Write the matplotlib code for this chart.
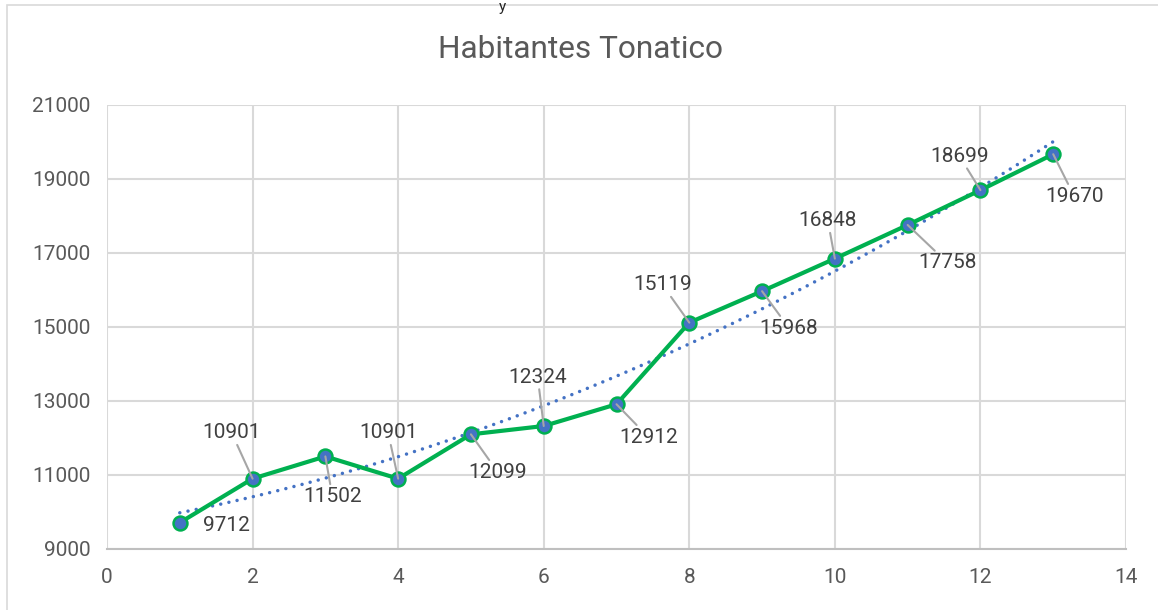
import numpy as np
import matplotlib
matplotlib.use("Agg")
import matplotlib.pyplot as plt
from matplotlib.patches import Rectangle

# Data
x_vals = [1, 2, 3, 4, 5, 6, 7, 8, 9, 10, 11, 12, 13]
habitantes = [9712, 10901, 11502, 10901, 12099, 12324, 12912, 15119, 15968, 16848, 17758, 18699, 19670]
title = "Habitantes Tonatico"
x_ticks = [0, 2, 4, 6, 8, 10, 12, 14]
y_ticks = [9000, 11000, 13000, 15000, 17000, 19000, 21000]

# Label offsets in pixels (layout only)
label_offsets = [(47, -3), (-21, 46), (7, -40), (-10, 46), (27, -38), (-6, 49),
                 (32, -33), (-27, 38), (27, -37), (-7, 38), (40, -38), (-21, 34), (21, -42)]

plt.rcParams['font.family'] = ['Roboto', 'DejaVu Sans']
TXT = '#595959'

fig = plt.figure(figsize=(11.58, 6.10), dpi=100)
ax = fig.add_axes([107/1158, 1 - 549/610, (1126 - 107)/1158, (549 - 105)/610])

# chart border
fig.patches.append(Rectangle((7/1158, -0.1), 1.2, (1 - 5/610) + 0.1, transform=fig.transFigure,
                             fill=False, edgecolor='#d9d9d9', linewidth=1.2))
fig.text(502/1158, 1.0, "y", ha='center', va='top', fontsize=11, color='#222222')

ax.set_xlim(0, 14)
ax.set_ylim(9000, 21000)
ax.set_xticks(x_ticks)
ax.set_yticks(y_ticks)
ax.grid(True, color='#d9d9d9', linewidth=1.5)
ax.set_axisbelow(True)
for s in ['top', 'right', 'left']:
    ax.spines[s].set_visible(False)
ax.spines['bottom'].set_color('#bfbfbf')
ax.spines['bottom'].set_linewidth(1.5)
ax.tick_params(length=0, labelsize=15, colors=TXT, pad=12)
ax.tick_params(axis='x', pad=14)

# trendline (polynomial fit)
coef = np.polyfit(x_vals, habitantes, 2)
xt = np.linspace(min(x_vals), max(x_vals), 300)
ax.plot(xt, np.polyval(coef, xt), linestyle=(0, (0.01, 2.4)), color='#4472C4', linewidth=2.5,
        dash_capstyle='round', zorder=3)

ax.plot(x_vals, habitantes, color='#00B050', linewidth=3, marker='o', markersize=10,
        markerfacecolor='#4472C4', markeredgecolor='#00B050', markeredgewidth=1.8, zorder=4)

for xv, yv, (dx, dy) in zip(x_vals, habitantes, label_offsets):
    far = np.hypot(dx, dy) > 48 or abs(dy) > 20
    ax.annotate(str(yv), (xv, yv), xytext=(dx, dy), textcoords='offset pixels',
                ha='center', va='center', fontsize=15, color='#404040',
                arrowprops=dict(arrowstyle='-', color='#a6a6a6', linewidth=1.5,
                                shrinkA=0, shrinkB=0) if far else None, zorder=5)

fig.text(581/1158, 1 - 50/610, title, ha='center', va='center', fontsize=22.8, color=TXT)

fig.savefig('out.png', dpi=100)
